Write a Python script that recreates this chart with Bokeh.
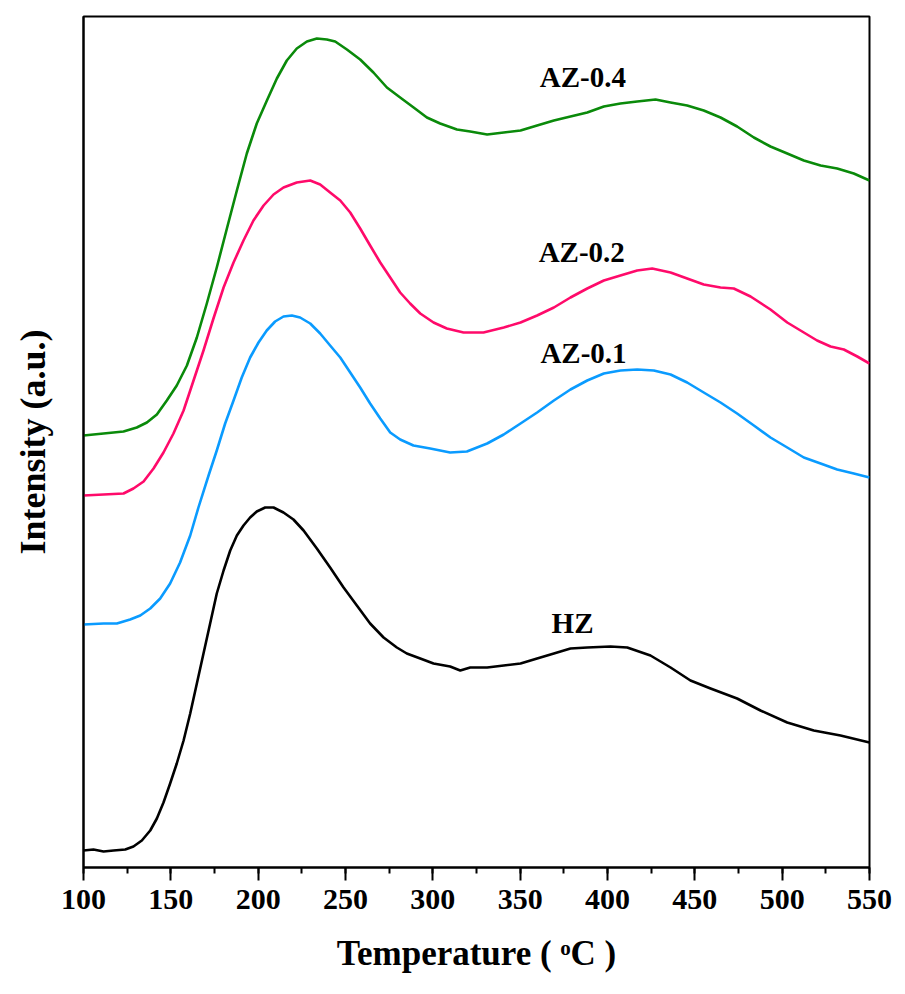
from bokeh.plotting import figure
from bokeh.models import Range1d, SingleIntervalTicker, FixedTicker
from bokeh.core.properties import value
from bokeh.embed import file_html
from bokeh.resources import INLINE

# ---- data (temperature in °C, intensity in a.u.) ----
hz_t = [100, 105.7, 111.5, 117.2, 123.9, 128.6, 133.4, 138.2, 142.0, 145.8, 149.6, 153.4, 157.3,
        161.1, 164.9, 168.7, 172.5, 176.3, 180.2, 184.0, 187.8, 191.6, 195.4, 199.2, 204.0, 208.8,
        214.5, 220.2, 226.0, 233.6, 241.2, 248.9, 256.5, 264.1, 271.8, 279.4, 285.1, 292.8, 300.4,
        309.9, 315.7, 321.4, 331.1, 340.6, 350.2, 359.7, 369.3, 378.8, 388.4, 401.7, 411.3, 424.6,
        436.1, 447.5, 459.0, 474.2, 487.6, 502.9, 518.1, 533.4, 550]
hz_i = [17, 18, 16, 17, 18, 21, 27, 37, 49, 65, 84, 104, 127,
        154, 184, 214, 244, 274, 297, 317, 332, 342, 350, 356, 360, 360,
        355, 348, 337, 319, 300, 280, 262, 244, 230, 220, 214, 209, 204,
        201, 197, 200, 200, 202, 204, 209, 214, 219, 220, 221, 220, 212,
        200, 187, 179, 169, 157, 145, 137, 132, 125]

az01_t = [100, 111.5, 119.1, 126.7, 132.5, 138.2, 143.9, 149.6, 155.3, 161.1, 165.8, 171.6, 176.3,
          181.1, 185.9, 190.6, 195.4, 200.2, 204.9, 209.7, 214.5, 219.3, 224.0, 229.8, 235.5, 241.2,
          247.0, 252.7, 258.4, 264.1, 269.9, 275.6, 281.3, 288.9, 298.5, 309.9, 319.5, 331.1, 340.6,
          350.2, 359.7, 369.3, 378.8, 388.4, 397.9, 407.4, 417.0, 426.5, 436.1, 445.6, 455.1, 464.7,
          474.2, 483.8, 493.3, 502.9, 512.4, 522.0, 531.5, 541.0, 550]
az01_i = [243, 244, 244, 248, 252, 259, 269, 284, 305, 332, 360, 392, 417,
          444, 467, 490, 510, 525, 537, 546, 551, 552, 550, 544, 534, 522,
          510, 495, 480, 464, 449, 435, 428, 422, 419, 415, 416, 424, 433,
          444, 455, 467, 478, 487, 494, 497, 498, 497, 493, 485, 475, 465,
          454, 442, 430, 420, 410, 404, 398, 394, 390]

az02_t = [100, 111.5, 122.9, 128.6, 134.4, 140.1, 145.8, 151.5, 157.3, 163.0, 168.7, 174.4, 180.2,
          185.9, 191.6, 197.3, 203.1, 208.8, 214.5, 222.1, 229.8, 235.5, 241.2, 247.0, 252.7, 258.4,
          264.1, 269.9, 275.6, 281.3, 287.0, 292.8, 300.4, 308.0, 317.6, 329.0, 340.6, 350.2, 359.7,
          369.3, 378.8, 388.4, 397.9, 407.4, 417.0, 425.6, 436.1, 445.6, 455.1, 464.7, 472.3, 481.9,
          493.3, 502.9, 512.4, 520.0, 527.7, 535.3, 543.0, 550]
az02_i = [372, 373, 374, 379, 386, 399, 415, 434, 457, 487, 517, 549, 580,
          605, 627, 647, 662, 673, 680, 685, 687, 683, 675, 667, 655, 639,
          622, 605, 590, 575, 564, 554, 545, 539, 535, 535, 540, 545, 552,
          560, 570, 579, 587, 592, 597, 599, 595, 589, 583, 580, 579, 571,
          558, 545, 535, 527, 521, 518, 511, 504]

az04_t = [100, 111.5, 122.9, 130.5, 136.3, 142.0, 147.7, 153.4, 159.2, 164.9, 170.6, 176.3, 182.1,
          187.8, 193.5, 199.2, 205.0, 210.7, 216.4, 222.1, 227.9, 233.6, 239.3, 244.1, 250.8, 258.4,
          266.0, 273.7, 281.3, 289.0, 296.6, 304.2, 313.8, 321.4, 331.1, 340.6, 350.2, 359.7, 369.3,
          378.8, 388.4, 397.9, 407.4, 417.0, 427.5, 436.1, 445.6, 455.1, 464.7, 474.2, 483.8, 493.3,
          502.9, 512.4, 522.0, 531.5, 541.0, 550]
az04_i = [432, 434, 436, 440, 445, 453, 467, 482, 502, 530, 564, 600, 639,
          677, 714, 744, 767, 789, 807, 819, 826, 829, 828, 826, 818, 808,
          795, 780, 770, 760, 750, 744, 738, 736, 733, 735, 737, 742, 747,
          751, 755, 761, 764, 766, 768, 765, 762, 757, 750, 741, 730, 721,
          714, 707, 702, 699, 694, 687]

series_names = ["HZ", "AZ-0.1", "AZ-0.2", "AZ-0.4"]
series_colors = ["#000000", "#0a9bff", "#ff0a6a", "#0a8a0a"]
label_t = [368.0, 361.6, 360.6, 361.2]
label_i = [245, 515, 616, 791]

x_ticks_interval = 50

p = figure(frame_width=786, frame_height=851, output_backend="svg", toolbar_location=None,
           x_range=Range1d(100, 550), y_range=Range1d(0, 851),
           min_border_left=83, min_border_top=16, min_border_right=28, min_border_bottom=110)
p.grid.visible = False
p.background_fill_color = "white"
p.border_fill_color = "white"
p.outline_line_color = "black"
p.outline_line_width = 2

for t, i, c in zip([hz_t, az01_t, az02_t, az04_t], [hz_i, az01_i, az02_i, az04_i], series_colors):
    p.line(t, i, line_color=c, line_width=2.6, line_join="round")

p.text(x=label_t, y=label_i, text=series_names, text_font=value("Liberation Serif"),
       text_font_style="bold", text_font_size="29px", text_color="black",
       text_align="left", text_baseline="alphabetic")

font = "Liberation Serif"
xa = p.xaxis[0]
xa.ticker = SingleIntervalTicker(interval=x_ticks_interval, num_minor_ticks=2)
xa.axis_line_width = 2
xa.major_tick_line_width = 2
xa.minor_tick_line_width = 2
xa.major_tick_out = 13
xa.major_tick_in = 0
xa.minor_tick_out = 6
xa.minor_tick_in = 0
xa.major_label_text_font = font
xa.major_label_text_font_style = "bold"
xa.major_label_text_font_size = "30px"
xa.major_label_text_color = "black"
xa.major_label_standoff = 9
xa.axis_label = "Temperature ( ᵒC )"
xa.axis_label_text_font = font
xa.axis_label_text_font_style = "bold"
xa.axis_label_text_font_size = "35px"
xa.axis_label_text_color = "black"
xa.axis_label_standoff = 22

ya = p.yaxis[0]
ya.ticker = FixedTicker(ticks=[])
ya.axis_line_width = 2
ya.major_tick_line_color = None
ya.minor_tick_line_color = None
ya.axis_label = "Intensity (a.u.)"
ya.axis_label_text_font = font
ya.axis_label_text_font_style = "bold"
ya.axis_label_text_font_size = "36px"
ya.axis_label_text_color = "black"
ya.axis_label_standoff = 31

open("out.html", "w").write(file_html(p, INLINE))
